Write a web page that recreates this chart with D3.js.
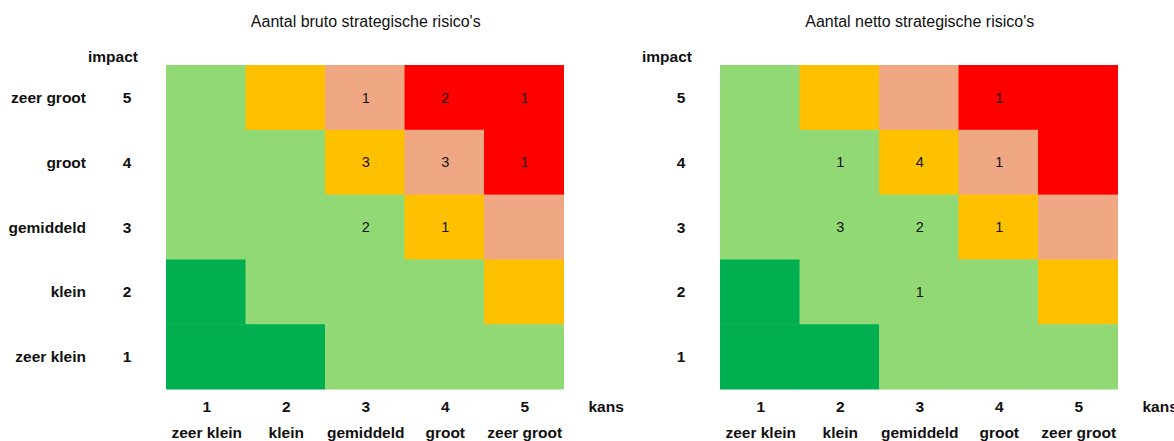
<!DOCTYPE html>
<html>
<head>
<meta charset="utf-8">
<script src="https://cdn.jsdelivr.net/npm/d3@7"></script>
<style>
  html, body { margin: 0; padding: 0; background: #fff; }
  svg { display: block; font-family: "Liberation Sans", Arial, sans-serif; }
</style>
</head>
<body>
<svg id="chart" width="1174" height="441"></svg>
<script>
// Axes: kans (likelihood) across, impact down
const kansLevels = [1, 2, 3, 4, 5];
const kansNames = ["zeer klein", "klein", "gemiddeld", "groot", "zeer groot"];
const impactLevels = [5, 4, 3, 2, 1];
const impactNames = ["zeer groot", "groot", "gemiddeld", "klein", "zeer klein"];

// Risk zone per cell (rows impact 5..1, columns kans 1..5)
const zoneRows = [
  ["laag", "midden", "hoog", "zeerhoog", "zeerhoog"],
  ["laag", "laag", "midden", "hoog", "zeerhoog"],
  ["laag", "laag", "laag", "midden", "hoog"],
  ["zeerlaag", "laag", "laag", "laag", "midden"],
  ["zeerlaag", "zeerlaag", "laag", "laag", "laag"]
];
const zoneNames = ["zeerlaag", "laag", "midden", "hoog", "zeerhoog"];
const zoneColors = ["#00b050", "#91d975", "#ffc000", "#f0a884", "#ff0000"];

// Number of risks per cell (null = empty)
const brutoCounts = [
  [null, null, 1, 2, 1],
  [null, null, 3, 3, 1],
  [null, null, 2, 1, null],
  [null, null, null, null, null],
  [null, null, null, null, null]
];
const nettoCounts = [
  [null, null, null, 1, null],
  [null, 1, 4, 1, null],
  [null, 3, 2, 1, null],
  [null, null, 1, null, null],
  [null, null, null, null, null]
];

const titles = ["Aantal bruto strategische risico's", "Aantal netto strategische risico's"];

const svg = d3.select("#chart");
const color = d3.scaleOrdinal().domain(zoneNames).range(zoneColors);
const labelSize = 15.5;

function drawMatrix(left, counts, title, showNames) {
  const top = 65, w = 397.5, h = 324;
  const x = d3.scaleBand().domain(kansLevels).range([left, left + w]);
  const y = d3.scaleBand().domain(impactLevels).range([top, top + h]);
  const g = svg.append("g");

  const cells = [];
  impactLevels.forEach((imp, r) => kansLevels.forEach((k, c) => {
    cells.push({ imp, k, zone: zoneRows[r][c], n: counts[r][c] });
  }));

  g.selectAll("rect.cell").data(cells).join("rect")
    .attr("class", "cell")
    .attr("x", d => x(d.k))
    .attr("y", d => y(d.imp))
    .attr("width", x.bandwidth() + 0.5)
    .attr("height", y.bandwidth() + 0.5)
    .attr("fill", d => color(d.zone));

  g.selectAll("text.count").data(cells.filter(d => d.n != null)).join("text")
    .attr("class", "count")
    .attr("x", d => x(d.k) + x.bandwidth() / 2 + 1)
    .attr("y", d => y(d.imp) + y.bandwidth() / 2)
    .attr("dy", "0.36em")
    .attr("text-anchor", "middle")
    .attr("font-size", 14.5)
    .attr("fill", "#111")
    .text(d => d.n);

  // title
  g.append("text")
    .attr("x", left + w / 2 + 1)
    .attr("y", 27)
    .attr("text-anchor", "middle")
    .attr("font-size", 16)
    .attr("fill", "#111")
    .text(title);

  // impact axis
  g.append("text")
    .attr("x", left - 28)
    .attr("y", 62)
    .attr("text-anchor", "end")
    .attr("font-size", labelSize)
    .attr("font-weight", "bold")
    .attr("fill", "#111")
    .text("impact");

  g.selectAll("text.ynum").data(impactLevels).join("text")
    .attr("class", "ynum")
    .attr("x", left - 39)
    .attr("y", d => y(d) + y.bandwidth() / 2)
    .attr("dy", "0.36em")
    .attr("text-anchor", "middle")
    .attr("font-size", labelSize)
    .attr("font-weight", "bold")
    .attr("fill", "#111")
    .text(d => d);

  if (showNames) {
    g.selectAll("text.yname").data(impactLevels).join("text")
      .attr("class", "yname")
      .attr("x", left - 80)
      .attr("y", d => y(d) + y.bandwidth() / 2)
      .attr("dy", "0.36em")
      .attr("text-anchor", "end")
      .attr("font-size", labelSize)
      .attr("font-weight", "bold")
      .attr("fill", "#111")
      .text((d, i) => impactNames[i]);
  }

  // kans axis
  g.selectAll("text.xnum").data(kansLevels).join("text")
    .attr("class", "xnum")
    .attr("x", d => x(d) + x.bandwidth() / 2 + 1)
    .attr("y", 412)
    .attr("text-anchor", "middle")
    .attr("font-size", labelSize)
    .attr("font-weight", "bold")
    .attr("fill", "#111")
    .text(d => d);

  g.selectAll("text.xname").data(kansLevels).join("text")
    .attr("class", "xname")
    .attr("x", d => x(d) + x.bandwidth() / 2 + 1)
    .attr("y", 438)
    .attr("text-anchor", "middle")
    .attr("font-size", labelSize)
    .attr("font-weight", "bold")
    .attr("fill", "#111")
    .text((d, i) => kansNames[i]);

  g.append("text")
    .attr("x", left + w + 25)
    .attr("y", 412)
    .attr("font-size", labelSize)
    .attr("font-weight", "bold")
    .attr("fill", "#111")
    .text("kans");
}

drawMatrix(166, brutoCounts, titles[0], true);
drawMatrix(720, nettoCounts, titles[1], false);
</script>
</body>
</html>
